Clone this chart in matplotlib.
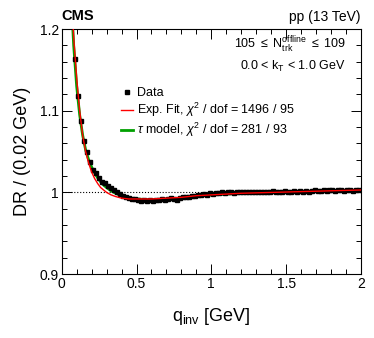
import numpy as np
import matplotlib
matplotlib.use("Agg")
import matplotlib.pyplot as plt
from matplotlib.ticker import MultipleLocator

plt.rcParams["font.family"] = ["Liberation Sans", "DejaVu Sans"]
plt.rcParams["mathtext.fontset"] = "custom"
plt.rcParams["mathtext.rm"] = "Liberation Sans"
plt.rcParams["mathtext.it"] = "Liberation Sans:italic"
plt.rcParams["mathtext.bf"] = "Liberation Sans:bold"

# -----------------------------
# DATA
# -----------------------------
q_bins = np.arange(0.01, 2.0, 0.02)
dr_data = [
    1.600, 1.450, 1.330, 1.235, 1.163, 1.118, 1.087, 1.063, 1.049, 1.037,
    1.028, 1.024, 1.018, 1.013, 1.011, 1.008, 1.005, 1.003, 1.001, 0.998,
    0.996, 0.995, 0.993, 0.992, 0.992, 0.991, 0.990, 0.991, 0.990, 0.991,
    0.990, 0.991, 0.991, 0.992, 0.991, 0.992, 0.993, 0.992, 0.991, 0.993,
    0.994, 0.995, 0.994, 0.996, 0.996, 0.997, 0.997, 0.998, 0.997, 0.999,
    0.998, 0.999, 0.999, 1.000, 0.999, 1.000, 1.000, 0.999, 1.000, 1.001,
    1.000, 1.000, 1.001, 1.000, 1.001, 1.001, 1.000, 1.001, 1.000, 1.001,
    1.002, 1.001, 1.001, 1.000, 1.002, 1.001, 1.001, 1.002, 1.001, 1.002,
    1.001, 1.002, 1.001, 1.002, 1.003, 1.002, 1.002, 1.003, 1.002, 1.003,
    1.003, 1.002, 1.003, 1.003, 1.002, 1.003, 1.003, 1.002, 1.003, 1.003,
]

q_fit = [0.04, 0.06, 0.08, 0.10, 0.12, 0.14, 0.16, 0.18, 0.20, 0.22,
         0.24, 0.26, 0.28, 0.30, 0.33, 0.36, 0.40, 0.45, 0.50, 0.60,
         0.70, 0.80, 0.90, 1.00, 1.20, 1.40, 1.60, 1.80, 2.00]
exp_fit = [1.360, 1.260, 1.190, 1.140, 1.100, 1.070, 1.050, 1.036, 1.025, 1.017,
           1.011, 1.006, 1.003, 1.000, 0.997, 0.995, 0.993, 0.992, 0.992, 0.992,
           0.993, 0.994, 0.996, 0.997, 0.999, 1.000, 1.001, 1.002, 1.003]
tau_fit = [1.380, 1.250, 1.180, 1.130, 1.095, 1.070, 1.052, 1.040, 1.031, 1.024,
           1.018, 1.013, 1.009, 1.006, 1.002, 0.999, 0.996, 0.993, 0.992, 0.991,
           0.992, 0.993, 0.995, 0.997, 0.999, 1.001, 1.001, 1.002, 1.002]

# -----------------------------
# PLOT
# -----------------------------
fig = plt.figure(figsize=(3.74, 3.38), dpi=100)
ax = fig.add_axes([0.165, 0.189, 0.800, 0.725])

ax.axhline(1.0, color="black", linestyle=":", linewidth=0.8, zorder=1)
ax.plot(q_bins, dr_data, "s", color="black", markersize=3.2, label="Data", zorder=3)
ax.plot(q_fit, exp_fit, color="#ff0000", linewidth=1.0, zorder=4,
        label=r"Exp. Fit, $\chi^{2}$ / dof = 1496 / 95")
ax.plot(q_fit, tau_fit, color="#00a000", linewidth=2.0, zorder=2,
        label=r"$\tau$ model, $\chi^{2}$ / dof = 281 / 93")

ax.set_xlim(0, 2)
ax.set_ylim(0.9, 1.2)
ax.xaxis.set_major_locator(MultipleLocator(0.5))
ax.xaxis.set_minor_locator(MultipleLocator(0.1))
ax.yaxis.set_major_locator(MultipleLocator(0.1))
ax.yaxis.set_minor_locator(MultipleLocator(0.02))
ax.set_yticks([0.9, 1.0, 1.1, 1.2])
ax.set_yticklabels(["0.9", "1", "1.1", "1.2"])
ax.set_xticks([0, 0.5, 1, 1.5, 2])
ax.set_xticklabels(["0", "0.5", "1", "1.5", "2"])
ax.tick_params(which="both", direction="in", top=True, right=True, labelsize=10,
               width=0.7, pad=2)
ax.tick_params(which="major", length=7)
ax.tick_params(which="minor", length=3.5)
for s in ax.spines.values():
    s.set_linewidth(0.8)

ax.set_xlabel(r"q$_{\mathrm{inv}}$ [GeV]", fontsize=13, labelpad=11)
ax.set_ylabel("DR / (0.02 GeV)", fontsize=13, labelpad=6)

ax.text(0.0, 1.025, "CMS", transform=ax.transAxes, fontsize=10.5,
        fontweight="bold", ha="left", va="bottom")
ax.text(1.0, 1.02, "pp (13 TeV)", transform=ax.transAxes, fontsize=10,
        ha="right", va="bottom")
ax.text(0.95, 0.935, r"105 $\leq$ N$_{\mathrm{trk}}^{\mathrm{offline}}$ $\leq$ 109",
        transform=ax.transAxes, fontsize=9, ha="right", va="center")
ax.text(0.95, 0.848, r"0.0 < k$_{\mathrm{T}}$ < 1.0 GeV",
        transform=ax.transAxes, fontsize=9, ha="right", va="center")

ax.legend(loc="upper left", bbox_to_anchor=(0.18, 0.782), frameon=False,
          fontsize=9, handlelength=1.0, handletextpad=0.3, labelspacing=0.12,
          borderaxespad=0, markerscale=1.0)

fig.savefig("out.png", dpi=100)
